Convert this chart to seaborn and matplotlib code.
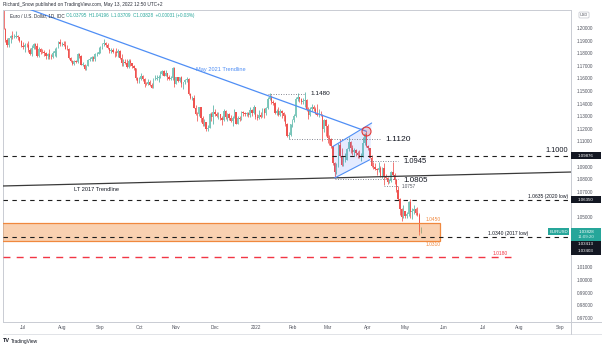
import numpy as np
import pandas as pd
import matplotlib
matplotlib.use("Agg")
import matplotlib.pyplot as plt
from matplotlib.patches import Polygon, Rectangle
from matplotlib.lines import Line2D
import seaborn as sns

sns.set_theme(style="white")
plt.rcParams["font.family"] = ["Liberation Sans", "DejaVu Sans"]

# ---------------- EUR/USD daily bars, 15 Jun 2021 - 13 May 2022 ----------------
first_day, last_day = "2021-06-15", "2022-05-13"

opens = [
    # Jun 2021
    1.2120, 1.2125, 1.1995, 1.1908, 1.1862, 1.1918, 1.1940, 1.1925, 1.1928, 1.1936, 1.1925, 1.1895,
    # Jul
    1.1858, 1.1847, 1.1865, 1.1864, 1.1822, 1.1790, 1.1843, 1.1875, 1.1860, 1.1775, 1.1835, 1.1810,
    1.1806, 1.1800, 1.1780, 1.1793, 1.1772, 1.1770, 1.1800, 1.1815, 1.1845, 1.1887,
    # Aug
    1.1870, 1.1870, 1.1868, 1.1835, 1.1832, 1.1763, 1.1737, 1.1718, 1.1738, 1.1730, 1.1795, 1.1780,
    1.1710, 1.1710, 1.1675, 1.1700, 1.1746, 1.1757, 1.1772, 1.1752, 1.1795, 1.1795,
    # Sep
    1.1808, 1.1840, 1.1875, 1.1880, 1.1868, 1.1840, 1.1817, 1.1825, 1.1812, 1.1810, 1.1805, 1.1820,
    1.1765, 1.1725, 1.1727, 1.1725, 1.1690, 1.1740, 1.1720, 1.1695, 1.1683, 1.1600,
    # Oct
    1.1578, 1.1596, 1.1622, 1.1596, 1.1555, 1.1553, 1.1573, 1.1551, 1.1527, 1.1594, 1.1595, 1.1600,
    1.1609, 1.1638, 1.1655, 1.1623, 1.1644, 1.1608, 1.1597, 1.1603, 1.1680,
    # Nov
    1.1558, 1.1608, 1.1580, 1.1611, 1.1553, 1.1568, 1.1587, 1.1593, 1.1479, 1.1445, 1.1448, 1.1367,
    1.1319, 1.1318, 1.1370, 1.1286, 1.1238, 1.1250, 1.1200, 1.1210, 1.1318, 1.1292,
    # Dec
    1.1336, 1.1320, 1.1302, 1.1315, 1.1285, 1.1267, 1.1343, 1.1293, 1.1315, 1.1285, 1.1258, 1.1289,
    1.1330, 1.1239, 1.1284, 1.1280, 1.1330, 1.1324, 1.1319, 1.1328, 1.1310, 1.1347, 1.1325,
    # Jan 2022
    1.1370, 1.1296, 1.1288, 1.1313, 1.1296, 1.1360, 1.1325, 1.1367, 1.1440, 1.1455, 1.1412, 1.1405,
    1.1325, 1.1343, 1.1311, 1.1345, 1.1325, 1.1303, 1.1240, 1.1145, 1.1147,
    # Feb
    1.1235, 1.1271, 1.1302, 1.1440, 1.1453, 1.1440, 1.1414, 1.1423, 1.1425, 1.1348, 1.1307, 1.1357,
    1.1375, 1.1360, 1.1320, 1.1309, 1.1310, 1.1307, 1.1195, 1.1270,
    # Mar
    1.1220, 1.1125, 1.1120, 1.1063, 1.0930, 1.0855, 1.0900, 1.1075, 1.0985, 1.0910, 1.0940, 1.0955,
    1.1037, 1.1094, 1.1050, 1.1015, 1.1031, 1.1005, 1.0995, 1.0982, 1.0985, 1.1087, 1.1160,
    # Apr
    1.1067, 1.1045, 1.0970, 1.0903, 1.0900, 1.0880, 1.0875, 1.0887, 1.0828, 1.0890, 1.0826, 1.0810,
    1.0779, 1.0787, 1.0854, 1.0836, 1.0797, 1.0716, 1.0640, 1.0560, 1.0497,
    # May
    1.0545, 1.0505, 1.0525, 1.0622, 1.0541, 1.0550, 1.0560, 1.0530, 1.0515, 1.03795,
]

highs = [
    1.2135, 1.2140, 1.2003, 1.1918, 1.1922, 1.1945, 1.1975, 1.1955, 1.1975, 1.1945, 1.1930, 1.1905,
    1.1885, 1.1880, 1.1880, 1.1895, 1.1845, 1.1868, 1.1880, 1.1880, 1.1880, 1.1850, 1.1838, 1.1830,
    1.1823, 1.1806, 1.1800, 1.1830, 1.1790, 1.1815, 1.1840, 1.1850, 1.1895, 1.1909,
    1.1892, 1.1896, 1.1900, 1.1865, 1.1845, 1.1770, 1.1745, 1.1745, 1.1745, 1.1800, 1.1800, 1.1785,
    1.1730, 1.1715, 1.1705, 1.1752, 1.1770, 1.1775, 1.1780, 1.1802, 1.1810, 1.1846,
    1.1857, 1.1880, 1.1909, 1.1885, 1.1880, 1.1845, 1.1845, 1.1845, 1.1818, 1.1845, 1.1830, 1.1825,
    1.1790, 1.1750, 1.1755, 1.1750, 1.1750, 1.1753, 1.1720, 1.1705, 1.1685, 1.1610,
    1.1612, 1.1640, 1.1625, 1.1605, 1.1575, 1.1595, 1.1585, 1.1565, 1.1600, 1.1624, 1.1625, 1.1625,
    1.1660, 1.1668, 1.1665, 1.1670, 1.1645, 1.1625, 1.1620, 1.1692, 1.1690,
    1.1615, 1.1615, 1.1615, 1.1616, 1.1575, 1.1595, 1.1608, 1.1605, 1.1484, 1.1464, 1.1465, 1.1385,
    1.1330, 1.1375, 1.1374, 1.1300, 1.1275, 1.1255, 1.1230, 1.1325, 1.1330, 1.1385,
    1.1360, 1.1335, 1.1330, 1.1320, 1.1300, 1.1355, 1.1350, 1.1325, 1.1325, 1.1310, 1.1300, 1.1360,
    1.1335, 1.1300, 1.1305, 1.1345, 1.1345, 1.1335, 1.1335, 1.1335, 1.1370, 1.1360, 1.1385,
    1.1375, 1.1320, 1.1346, 1.1330, 1.1365, 1.1365, 1.1375, 1.1450, 1.1482, 1.1465, 1.1425, 1.1410,
    1.1360, 1.1370, 1.1355, 1.1350, 1.1335, 1.1315, 1.1245, 1.1175, 1.1240,
    1.1280, 1.1315, 1.1450, 1.1485, 1.1455, 1.1445, 1.1448, 1.1495, 1.1435, 1.1370, 1.1370, 1.1395,
    1.1390, 1.1375, 1.1395, 1.1360, 1.1345, 1.1315, 1.1275, 1.1275,
    1.1235, 1.1150, 1.1125, 1.1065, 1.0935, 1.0930, 1.1085, 1.1121, 1.1045, 1.0985, 1.1005, 1.1045,
    1.1137, 1.1100, 1.1070, 1.1045, 1.1040, 1.1025, 1.1035, 1.1005, 1.1137, 1.1170, 1.1185,
    1.1075, 1.1050, 1.0995, 1.0935, 1.0925, 1.0890, 1.0935, 1.0905, 1.0895, 1.0925, 1.0840, 1.0820,
    1.0805, 1.0865, 1.0936, 1.0850, 1.0800, 1.0745, 1.0650, 1.0570, 1.0595,
    1.0550, 1.0540, 1.0630, 1.0641, 1.0570, 1.0595, 1.0575, 1.0580, 1.0530, 1.04196,
]

lows = [
    1.2094, 1.1993, 1.1892, 1.1847, 1.1848, 1.1877, 1.1915, 1.1918, 1.1920, 1.1905, 1.1885, 1.1850,
    1.1835, 1.1807, 1.1850, 1.1807, 1.1782, 1.1781, 1.1837, 1.1837, 1.1772, 1.1772, 1.1794, 1.1802,
    1.1780, 1.1753, 1.1752, 1.1755, 1.1755, 1.1762, 1.1780, 1.1772, 1.1840, 1.1860,
    1.1855, 1.1855, 1.1830, 1.1825, 1.1755, 1.1732, 1.1706, 1.1705, 1.1720, 1.1725, 1.1765, 1.1705,
    1.1695, 1.1664, 1.1664, 1.1695, 1.1735, 1.1735, 1.1735, 1.1740, 1.1780, 1.1790,
    1.1800, 1.1830, 1.1857, 1.1853, 1.1836, 1.1800, 1.1805, 1.1805, 1.1770, 1.1780, 1.1770, 1.1750,
    1.1700, 1.1700, 1.1717, 1.1683, 1.1684, 1.1700, 1.1680, 1.1667, 1.1590, 1.1563,
    1.1560, 1.1585, 1.1580, 1.1530, 1.1545, 1.1545, 1.1540, 1.1524, 1.1525, 1.1585, 1.1585, 1.1572,
    1.1605, 1.1625, 1.1620, 1.1620, 1.1590, 1.1585, 1.1585, 1.1590, 1.1535,
    1.1555, 1.1575, 1.1570, 1.1528, 1.1513, 1.1555, 1.1570, 1.1465, 1.1433, 1.1432, 1.1365, 1.1308,
    1.1264, 1.1305, 1.1250, 1.1225, 1.1226, 1.1186, 1.1185, 1.1205, 1.1260, 1.1235,
    1.1300, 1.1290, 1.1275, 1.1270, 1.1227, 1.1260, 1.1275, 1.1265, 1.1270, 1.1250, 1.1222, 1.1285,
    1.1235, 1.1235, 1.1265, 1.1270, 1.1305, 1.1305, 1.1305, 1.1295, 1.1295, 1.1300, 1.1320,
    1.1280, 1.1272, 1.1280, 1.1285, 1.1290, 1.1285, 1.1310, 1.1355, 1.1430, 1.1395, 1.1385, 1.1315,
    1.1310, 1.1300, 1.1305, 1.1285, 1.1265, 1.1225, 1.1135, 1.1121, 1.1140,
    1.1215, 1.1255, 1.1290, 1.1420, 1.1410, 1.1395, 1.1400, 1.1375, 1.1340, 1.1280, 1.1300, 1.1345,
    1.1345, 1.1315, 1.1305, 1.1290, 1.1300, 1.1106, 1.1175, 1.1140,
    1.1090, 1.1075, 1.1045, 1.0910, 1.0806, 1.0840, 1.0895, 1.0980, 1.0905, 1.0905, 1.0935, 1.0950,
    1.1025, 1.1005, 1.0995, 1.0985, 1.0985, 1.0965, 1.0965, 1.0945, 1.0980, 1.1075, 1.1055,
    1.1030, 1.0965, 1.0900, 1.0880, 1.0870, 1.0835, 1.0860, 1.0820, 1.0810, 1.0757, 1.0800, 1.0765,
    1.0770, 1.0775, 1.0825, 1.0765, 1.0700, 1.0635, 1.0515, 1.0471, 1.0490,
    1.0490, 1.0495, 1.0505, 1.0490, 1.0485, 1.0525, 1.0515, 1.0510, 1.0354, 1.03709,
]

closes = [
    1.2125, 1.1995, 1.1908, 1.1862, 1.1918, 1.1940, 1.1925, 1.1928, 1.1936, 1.1925, 1.1895, 1.1858,
    1.1847, 1.1865, 1.1864, 1.1822, 1.1790, 1.1843, 1.1875, 1.1860, 1.1775, 1.1835, 1.1810, 1.1806,
    1.1800, 1.1780, 1.1793, 1.1772, 1.1770, 1.1800, 1.1815, 1.1845, 1.1887, 1.1870,
    1.1870, 1.1868, 1.1835, 1.1832, 1.1763, 1.1737, 1.1718, 1.1738, 1.1730, 1.1795, 1.1780, 1.1710,
    1.1710, 1.1675, 1.1700, 1.1746, 1.1757, 1.1772, 1.1752, 1.1795, 1.1795, 1.1808,
    1.1840, 1.1875, 1.1880, 1.1868, 1.1840, 1.1817, 1.1825, 1.1812, 1.1810, 1.1805, 1.1820, 1.1765,
    1.1725, 1.1727, 1.1725, 1.1690, 1.1740, 1.1720, 1.1695, 1.1683, 1.1600, 1.1578,
    1.1596, 1.1622, 1.1596, 1.1555, 1.1553, 1.1573, 1.1551, 1.1527, 1.1594, 1.1595, 1.1600, 1.1609,
    1.1638, 1.1655, 1.1623, 1.1644, 1.1608, 1.1597, 1.1603, 1.1680, 1.1558,
    1.1608, 1.1580, 1.1611, 1.1553, 1.1568, 1.1587, 1.1593, 1.1479, 1.1445, 1.1448, 1.1367, 1.1319,
    1.1318, 1.1370, 1.1286, 1.1238, 1.1250, 1.1200, 1.1210, 1.1318, 1.1292, 1.1336,
    1.1320, 1.1302, 1.1315, 1.1285, 1.1267, 1.1343, 1.1293, 1.1315, 1.1285, 1.1258, 1.1289, 1.1330,
    1.1239, 1.1284, 1.1280, 1.1330, 1.1324, 1.1319, 1.1328, 1.1310, 1.1347, 1.1325, 1.1370,
    1.1296, 1.1288, 1.1313, 1.1296, 1.1360, 1.1325, 1.1367, 1.1440, 1.1455, 1.1412, 1.1405, 1.1325,
    1.1343, 1.1311, 1.1345, 1.1325, 1.1303, 1.1240, 1.1145, 1.1147, 1.1235,
    1.1271, 1.1302, 1.1440, 1.1453, 1.1440, 1.1414, 1.1423, 1.1425, 1.1348, 1.1307, 1.1357, 1.1375,
    1.1360, 1.1320, 1.1309, 1.1310, 1.1307, 1.1195, 1.1270, 1.1220,
    1.1125, 1.1120, 1.1063, 1.0930, 1.0855, 1.0900, 1.1075, 1.0985, 1.0910, 1.0940, 1.0955, 1.1037,
    1.1094, 1.1050, 1.1015, 1.1031, 1.1005, 1.0995, 1.0982, 1.0985, 1.1087, 1.1160, 1.1067,
    1.1045, 1.0970, 1.0903, 1.0900, 1.0880, 1.0875, 1.0887, 1.0828, 1.0890, 1.0826, 1.0810, 1.0779,
    1.0787, 1.0854, 1.0836, 1.0797, 1.0716, 1.0640, 1.0560, 1.0497, 1.0545,
    1.0505, 1.0525, 1.0622, 1.0541, 1.0550, 1.0560, 1.0530, 1.0515, 1.0380, 1.03828,
]

# ---------------- axis labels ----------------
month_starts = ["2021-07-01", "2021-08-02", "2021-09-01", "2021-10-01", "2021-11-01",
                "2021-12-01", "2022-01-03", "2022-02-01", "2022-03-01", "2022-04-01",
                "2022-05-02", "2022-06-01", "2022-07-01", "2022-08-01", "2022-09-01"]
month_labels = ["Jul", "Aug", "Sep", "Oct", "Nov", "Dec", "2022", "Feb", "Mar", "Apr",
                "May", "Jun", "Jul", "Aug", "Sep"]
price_ticks = [1.20, 1.19, 1.18, 1.17, 1.16, 1.15, 1.14, 1.13, 1.12, 1.11,
               1.09, 1.08, 1.07, 1.05, 1.01, 1.00, 0.99, 0.98, 0.97]

# ---------------- drawn levels ----------------
level_1100 = 1.09876
level_2020_low = 1.0635
level_2017_low = 1.0340
zone_top, zone_bottom = 1.0450, 1.0310
level_red = 1.0180
level_1480, level_1120, level_0945, level_0805, level_0757 = 1.1480, 1.1120, 1.0945, 1.0805, 1.0757
last_close = 1.03828

may2021_days, may2021_prices = ["2021-07-01", "2022-03-31"], [1.2167, 1.1180]
lt2017_days, lt2017_prices = ["2021-06-15", "2022-09-30"], [1.0746, 1.0862]
channel_upper_days, channel_upper_prices = ["2022-03-04", "2022-04-05"], [1.1060, 1.1246]
channel_lower_days, channel_lower_prices = ["2022-03-07", "2022-04-04"], [1.0810, 1.0955]
rejection_day, rejection_price = "2022-03-31", 1.1183

# ---------------- trading-day x scale ----------------
axis_days = pd.bdate_range("2021-05-03", "2022-12-30")
origin = axis_days.get_loc(pd.Timestamp("2021-07-01"))


def bar_pos(day):
    return axis_days.get_loc(pd.Timestamp(day)) - origin


W, H = 602, 346
P_LEFT, P_RIGHT, P_TOP, P_BOTTOM = 3, 571, 9.5, 322
fig = plt.figure(figsize=(W / 100, H / 100), dpi=100)
fig.patch.set_facecolor("white")
ax = fig.add_axes([P_LEFT / W, 1 - P_BOTTOM / H,
                   (P_RIGHT - P_LEFT) / W, (P_BOTTOM - P_TOP) / H])
ax.set_facecolor("white")
ax.set_xlim(-11.36, 311.2)
ax.set_ylim(0.96667, 1.21468)

# ---------------- candles ----------------
days = pd.bdate_range(first_day, last_day)
xs = np.array([bar_pos(d) for d in days], dtype=float)
o, h, l, c = (np.asarray(v, dtype=float) for v in (opens, highs, lows, closes))
rising = c >= o
body_lo = np.minimum(o, c)
body_h = np.maximum(np.abs(c - o), 0.00025)

UP_BODY, UP_WICK, DOWN = "#7fcabd", "#4fb0a3", "#ef5350"
ax.vlines(xs[rising], l[rising], h[rising], color=UP_WICK, lw=0.55, zorder=2)
ax.vlines(xs[~rising], l[~rising], h[~rising], color=DOWN, lw=0.55, zorder=2)
ax.bar(xs[rising], body_h[rising], bottom=body_lo[rising], width=0.8,
       color=UP_BODY, lw=0, zorder=2.1)
ax.bar(xs[~rising], body_h[~rising], bottom=body_lo[~rising], width=0.8,
       color=DOWN, lw=0, zorder=2.1)

# ---------------- drawings ----------------
BLUE = "#4f8ef5"
GREY_DOT = "#787b86"
INK = "#131722"
ORANGE = "#f0883e"
RED = "#f23645"
x_left, x_right = ax.get_xlim()
dashed = (0, (4, 4))
dotted = (0, (1.2, 1.8))

# May 2021 trendline and LT 2017 trendline
sns.lineplot(x=[bar_pos(d) for d in may2021_days], y=may2021_prices, ax=ax,
             color=BLUE, lw=0.9, zorder=4)
sns.lineplot(x=[bar_pos(d) for d in lt2017_days], y=lt2017_prices, ax=ax,
             color="#3a3a3a", lw=0.9, zorder=4)
ax.text(bar_pos("2021-11-16"), 1.1672, "May 2021 Trendline", color=BLUE,
        fontsize=4.1, ha="left", va="center", zorder=5)
ax.text(bar_pos("2021-08-11"), 1.0720, "LT 2017 Trendline", color=INK,
        fontsize=4.1, ha="left", va="center", zorder=5)

# full-width horizontal levels
for lvl in (level_1100, level_2020_low, level_2017_low):
    ax.axhline(lvl, color="#1e1e1e", lw=0.8, ls=dashed, zorder=4)
ax.text(0.9947, 1.1030, "1.1000", transform=ax.get_yaxis_transform(),
        ha="right", va="center", fontsize=5.3, color=INK, zorder=5)
ax.text(0.9947, 1.0664, "1.0635 (2020 low)", transform=ax.get_yaxis_transform(),
        ha="right", va="center", fontsize=3.6, color=INK, zorder=5)
ax.text(bar_pos("2022-07-06"), 1.0349, "1.0340 (2017 low)", ha="left", va="bottom",
        fontsize=3.6, color=INK, zorder=5)

# support zone
zone_end = bar_pos("2022-05-30")
ax.add_patch(Rectangle((x_left - 2, zone_bottom), zone_end - x_left + 2, zone_top - zone_bottom,
                       facecolor="#f28c3c", alpha=0.4, edgecolor="none", zorder=3))
ax.add_patch(Rectangle((x_left - 2, zone_bottom), zone_end - x_left + 2, zone_top - zone_bottom,
                       facecolor="none", edgecolor=ORANGE, lw=0.9, zorder=3.5))
ax.text(zone_end, zone_top + 0.0012, "1.0450", color=ORANGE, fontsize=3.5,
        ha="right", va="bottom", zorder=5)
ax.text(zone_end, zone_bottom - 0.0012, "1.0310", color=ORANGE, fontsize=3.5,
        ha="right", va="top", zorder=5)

# red target
red_end = bar_pos("2022-07-25")
ax.plot([x_left, red_end], [level_red, level_red], color=RED, lw=1.0,
        ls=(0, (5, 4.5)), zorder=4)
ax.text(bar_pos("2022-07-21"), level_red + 0.0012, "1.0180", color=RED, fontsize=3.5,
        ha="right", va="bottom", zorder=5)

# dotted swing levels
swing_levels = [
    (level_1480, "2022-01-12", "2022-02-10", "2022-02-15", "1.1480", 4.6, 0.0),
    (level_1120, "2022-01-28", "2022-04-12", "2022-04-15", "1.1120", 6.1, -0.0006),
    (level_0945, "2022-04-04", "2022-04-26", "2022-04-29", "1.0945", 5.5, -0.0007),
    (level_0805, "2022-03-07", "2022-04-26", "2022-04-29", "1.0805", 5.8, -0.0012),
]
for lvl, d0, d1, dl, txt, fs, dy in swing_levels:
    ax.plot([bar_pos(d0), bar_pos(d1)], [lvl, lvl], color=GREY_DOT, lw=0.6, ls=dotted, zorder=4)
    ax.text(bar_pos(dl), lvl + dy, txt, fontsize=fs, color=INK, ha="left", va="center", zorder=5)
ax.plot([bar_pos("2022-04-14"), bar_pos("2022-04-26")], [level_0757 - 0.0010] * 2,
        color=GREY_DOT, lw=0.6, ls=dotted, zorder=4)
ax.text(bar_pos("2022-04-28"), level_0757 - 0.0014, "1.0757", fontsize=3.3,
        color="#50535e", ha="left", va="center", zorder=5)

# rising channel
up_x = [bar_pos(d) for d in channel_upper_days]
lo_x = [bar_pos(d) for d in channel_lower_days]
ax.add_patch(Polygon([(up_x[0], channel_upper_prices[0]), (up_x[1], channel_upper_prices[1]),
                      (lo_x[1], channel_lower_prices[1]), (lo_x[0], channel_lower_prices[0])],
                     closed=True, facecolor="#2962ff", alpha=0.12, edgecolor="none", zorder=3))
ax.plot(up_x, channel_upper_prices, color=BLUE, lw=0.8, zorder=4)
ax.plot(lo_x, channel_lower_prices, color=BLUE, lw=0.8, zorder=4)

# rejection marker
sns.scatterplot(x=[bar_pos(rejection_day)], y=[rejection_price], ax=ax, s=42,
                facecolor=(0.95, 0.3, 0.3, 0.18), edgecolor="#e53935", linewidth=0.8, zorder=6)

# ---------------- axes styling ----------------
ax.set_xticks([bar_pos(d) for d in month_starts])
ax.set_xticklabels(month_labels)
ax.yaxis.tick_right()
ax.set_yticks(price_ticks)
ax.set_yticklabels([f"{t:.5f}" for t in price_ticks])
ax.tick_params(axis="x", length=0, pad=2.4, labelsize=3.4, labelcolor="#50535e")
ax.tick_params(axis="y", length=0, pad=4.0, labelsize=3.3, labelcolor="#50535e")
ax.set_xlabel("")
ax.set_ylabel("")
ax.grid(False)
for sp in ax.spines.values():
    sp.set_visible(True)
    sp.set_color("#c9ccd3")
    sp.set_linewidth(0.7)

fig.add_artist(Line2D([P_RIGHT / W, 1], [1 - P_BOTTOM / H] * 2, color="#c9ccd3", lw=0.7))
fig.add_artist(Line2D([P_LEFT / W, 1], [1 - 334 / H] * 2, color="#dcdee3", lw=0.6))
fig.add_artist(Line2D([P_RIGHT / W] * 2, [1 - 334 / H, 1 - P_BOTTOM / H], color="#c9ccd3", lw=0.7))

# ---------------- price-scale tags ----------------
ymin, ymax = ax.get_ylim()
span_px = P_BOTTOM - P_TOP
plot_w = P_RIGHT - P_LEFT


def y_frac(price):
    return (price - ymin) / (ymax - ymin)


def px_frac(px):
    return (P_BOTTOM - px) / span_px


def tag(top_px, bottom_px, face, lines, x0_px=P_RIGHT, x1_px=601):
    x0 = (x0_px - P_LEFT) / plot_w
    ax.add_patch(Rectangle((x0, px_frac(bottom_px)), (x1_px - x0_px) / plot_w,
                           (bottom_px - top_px) / span_px, transform=ax.transAxes,
                           facecolor=face, edgecolor="none", clip_on=False, zorder=8))
    xc = (0.5 * (x0_px + x1_px) - P_LEFT) / plot_w
    for yc_px, txt, col in lines:
        ax.text(xc, px_frac(yc_px), txt, transform=ax.transAxes, ha="center", va="center",
                fontsize=3.2, color=col, clip_on=False, zorder=9)


def price_px(price):
    return P_BOTTOM - y_frac(price) * span_px


p = price_px(level_1100)
tag(p - 3.5, p + 3.5, "#131722", [(p, "1.09876", "white")])
p = price_px(level_2020_low)
tag(p - 3.5, p + 3.5, "#131722", [(p, "1.06350", "white")])
p = price_px(last_close)
tag(p - 3.6, p + 8.8, "#26a69a", [(p, "1.03828", "white"), (p + 5.6, "11:09:20", "#d9f2ef")])
tag(p - 3.6, p + 3.4, "#26a69a", [(p, "EURUSD", "white")], x0_px=548, x1_px=569)
tag(p + 9.3, p + 15.8, "#131722", [(p + 12.5, "1.03413", "white")])
tag(p + 16.3, p + 22.8, "#131722", [(p + 19.5, "1.03403", "white")])

ax.text((584 - P_LEFT) / plot_w, px_frac(15), "USD", transform=ax.transAxes, ha="center",
        va="center", fontsize=2.8, color="#50535e", clip_on=False, zorder=9,
        bbox=dict(boxstyle="round,pad=0.25", facecolor="white", edgecolor="#b2b5be", lw=0.4))

# ---------------- header and footer ----------------
fig.text(3 / W, 1 - 4.5 / H, "Richard_Snow published on TradingView.com, May 13, 2022 12:50 UTC+2",
         fontsize=3.4, color="#2a2e39", ha="left", va="center")
fig.text(10 / W, 1 - 16 / H, "Euro / U.S. Dollar, 1D, IDC", fontsize=3.3, color="#2a2e39",
         ha="left", va="center")
fig.text(66 / W, 1 - 16 / H, "O1.03795  H1.04196  L1.03709  C1.03828  +0.00031 (+0.03%)",
         fontsize=3.3, color="#26a69a", ha="left", va="center")
fig.text(3 / W, 1 - 341 / H, "TV", fontsize=4.0, fontweight="bold", color="#131722",
         ha="left", va="center")
fig.text(11 / W, 1 - 341 / H, "TradingView", fontsize=3.5, color="#131722",
         ha="left", va="center")

fig.savefig("out.png", dpi=100, facecolor="white")
